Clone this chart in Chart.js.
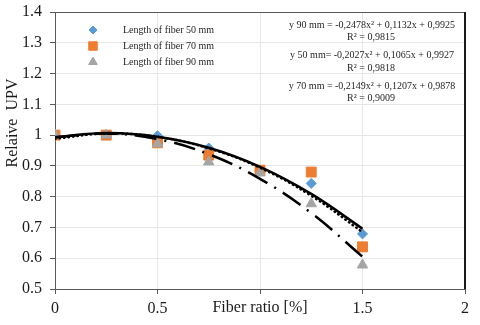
<!DOCTYPE html>
<html>
<head>
<meta charset="utf-8">
<script src="https://cdn.jsdelivr.net/npm/chart.js@4.4.1/dist/chart.umd.min.js"></script>
<style>
  html, body { margin: 0; padding: 0; background: #fff; }
</style>
</head>
<body>
<canvas id="upvChart" width="480" height="325"></canvas>
<script>
// measured values (relative UPV vs fiber ratio)
const fiberRatio = [0, 0.25, 0.5, 0.75, 1, 1.25, 1.5];
const upv50 = [1.0, 1.0, 0.998, 0.958, 0.884, 0.843, 0.679];
const upv70 = [1.0, 1.0, 0.975, 0.935, 0.886, 0.880, 0.637];
const upv90 = [1.0, 1.0, 0.972, 0.913, 0.877, 0.777, 0.578];

// polynomial trendlines as shown in the chart
const trend50 = [0.993, 1.007, 0.995, 0.959, 0.897, 0.809, 0.696];
const trend70 = [0.988, 1.005, 0.994, 0.957, 0.894, 0.803, 0.685];
const trend90 = [0.993, 1.005, 0.987, 0.938, 0.858, 0.747, 0.605];

const seriesNames = ["Length of fiber 50 mm", "Length of fiber 70 mm", "Length of fiber 90 mm"];
const equations = [
  ["y 90 mm = -0,2478x\u00B2 + 0,1132x + 0,9925", "R\u00B2 = 0,9815"],
  ["y 50 mm= -0,2027x\u00B2 + 0,1065x + 0,9927", "R\u00B2 = 0,9818"],
  ["y 70 mm = -0,2149x\u00B2 + 0,1207x + 0,9878", "R\u00B2 = 0,9009"],
];
const xTitle = "Fiber ratio [%]";
const yTitle = "Relaive  UPV";

const serif = "'Liberation Serif', 'Times New Roman', serif";
const toPoints = (ys) => fiberRatio.map((x, i) => ({ x: x, y: ys[i] }));

const markers = [
  { pointStyle: "rectRot", radius: 5, color: "#5B9BD5" },
  { pointStyle: "rect", radius: 7, color: "#ED7D31" },
  { pointStyle: "triangle", radius: 6, color: "#A5A5A5" },
];

function markerSet(label, ys, m, order) {
  return {
    label: label,
    data: toPoints(ys),
    showLine: false,
    pointStyle: m.pointStyle,
    pointRadius: m.radius,
    pointBackgroundColor: m.color,
    pointBorderColor: m.color,
    pointBorderWidth: 1,
    order: order,
  };
}

function trendSet(label, ys, dash, cap) {
  return {
    label: label,
    data: toPoints(ys),
    showLine: true,
    pointRadius: 0,
    borderColor: "#000",
    borderWidth: 2.5,
    borderDash: dash,
    borderCapStyle: cap,
    tension: 0.4,
    fill: false,
    order: 0,
  };
}

// legend, equations, frame and axis titles
const overlay = {
  id: "overlay",
  afterDraw(chart) {
    const ctx = chart.ctx;
    const a = chart.chartArea;
    ctx.save();

    ctx.strokeStyle = "#595959";
    ctx.lineWidth = 1;
    ctx.beginPath();
    ctx.moveTo(a.left, a.top + 0.5);
    ctx.lineTo(a.right, a.top + 0.5);
    ctx.stroke();
    ctx.strokeStyle = "#1a1a1a";
    ctx.lineWidth = 2;
    ctx.beginPath();
    ctx.moveTo(a.right, a.top);
    ctx.lineTo(a.right, a.bottom);
    ctx.stroke();

    // legend
    ctx.font = "10px " + serif;
    ctx.textBaseline = "middle";
    ctx.textAlign = "left";
    markers.forEach((m, i) => {
      const y = 30 + i * 16;
      ctx.fillStyle = m.color;
      ctx.strokeStyle = m.color;
      ctx.lineWidth = 1;
      Chart.helpers.drawPoint(ctx, { pointStyle: m.pointStyle, radius: m.radius - 1, rotation: 0, borderWidth: 1 }, 93, y);
      ctx.fillStyle = "#262626";
      ctx.fillText(seriesNames[i], 123, y);
    });

    // equations
    ctx.textAlign = "center";
    equations.forEach((eq, i) => {
      const y = 25 + i * 30.5;
      ctx.fillText(eq[0], 372, y);
      ctx.fillText(eq[1], 371, y + 12.5);
    });

    // axis titles
    ctx.font = "16px " + serif;
    ctx.fillStyle = "#1a1a1a";
    ctx.fillText(xTitle, (a.left + a.right) / 2, 308);
    ctx.translate(13, 123);
    ctx.rotate(-Math.PI / 2);
    ctx.fillText(yTitle, 0, 0);
    ctx.restore();
  },
};

const ctx = document.getElementById("upvChart").getContext("2d");
const upvChart = new Chart(ctx, {
  type: "scatter",
  data: {
    datasets: [
      trendSet("Trend 50 mm", trend50, [], "butt"),
      trendSet("Trend 70 mm", trend70, [0.5, 4], "round"),
      trendSet("Trend 90 mm", trend90, [22, 8, 2, 8], "butt"),
      markerSet(seriesNames[0], upv50, markers[0], 3),
      markerSet(seriesNames[1], upv70, markers[1], 2),
      markerSet(seriesNames[2], upv90, markers[2], 1),
    ],
  },
  options: {
    responsive: false,
    animation: false,
    devicePixelRatio: 1,
    layout: { padding: { top: 12, right: 15, left: 0, bottom: 0 } },
    plugins: {
      legend: { display: false },
      tooltip: { enabled: false },
    },
    scales: {
      x: {
        type: "linear",
        min: 0,
        max: 2,
        ticks: {
          stepSize: 0.5,
          padding: 5,
          color: "#1a1a1a",
          font: { family: serif, size: 16 },
          callback: (v) => (v === 1 ? "" : String(v)),
        },
        grid: { color: "#e6e6e6", tickColor: "#595959", tickLength: 5 },
        border: { color: "#595959", width: 1 },
        afterFit: (s) => { s.height = 36; s.paddingLeft = 0; s.paddingRight = 0; },
      },
      y: {
        min: 0.5,
        max: 1.4,
        ticks: {
          stepSize: 0.1,
          padding: 8,
          color: "#1a1a1a",
          font: { family: serif, size: 16 },
          callback: (v) => String(Number(v.toFixed(1))),
        },
        grid: { color: "#e6e6e6", tickColor: "#595959", tickLength: 5 },
        border: { color: "#595959", width: 1 },
        afterFit: (s) => { s.width = 55; s.paddingTop = 0; s.paddingBottom = 0; },
      },
    },
  },
  plugins: [overlay],
});
</script>
</body>
</html>
